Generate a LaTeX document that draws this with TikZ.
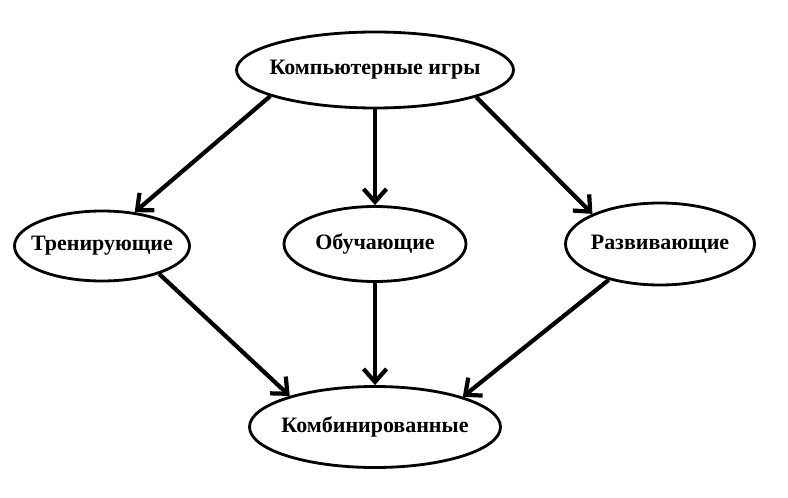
\documentclass[tikz,border=0pt]{standalone}
\usepackage{fontspec}
\setmainfont{Liberation Serif}
\usetikzlibrary{shapes.geometric, arrows.meta, positioning}

\begin{document}
\begin{tikzpicture}[
    gametype/.style={ellipse, draw=black, line width=1.6pt, inner xsep=-12pt, inner ysep=0pt, font=\fontsize{12.5}{15}\selectfont\bfseries},
    arrow/.style={line width=2.4pt, -{Straight Barb[length=2.6mm, width=4.6mm]}}
]
\useasboundingbox[fill=white] (0,0) rectangle (15.76,-9.96);

% Game types
\node[gametype, minimum width=5.54cm, minimum height=1.52cm] (games) at (7.5,-1.4) {Компьютерные игры};
\node[gametype, minimum width=3.5cm, minimum height=1.4cm] (training) at (2.04,-4.92) {Тренирующие};
\node[gametype, minimum width=3.64cm, minimum height=1.5cm] (teaching) at (7.5,-4.88) {Обучающие};
\node[gametype, minimum width=3.78cm, minimum height=1.64cm] (developing) at (13.2,-4.88) {Развивающие};
\node[gametype, minimum width=5.02cm, minimum height=1.62cm] (combined) at (7.5,-8.54) {Комбинированные};

% Links
\draw[arrow] (games.194) -- (training.46);
\draw[arrow] (games.south) -- (teaching.north);
\draw[arrow] (games.345) -- (developing.156);
\draw[arrow] (training.334) -- (combined.160);
\draw[arrow] (teaching.south) -- (combined.north);
\draw[arrow] (developing.215) -- (combined.19);

\end{tikzpicture}
\end{document}
